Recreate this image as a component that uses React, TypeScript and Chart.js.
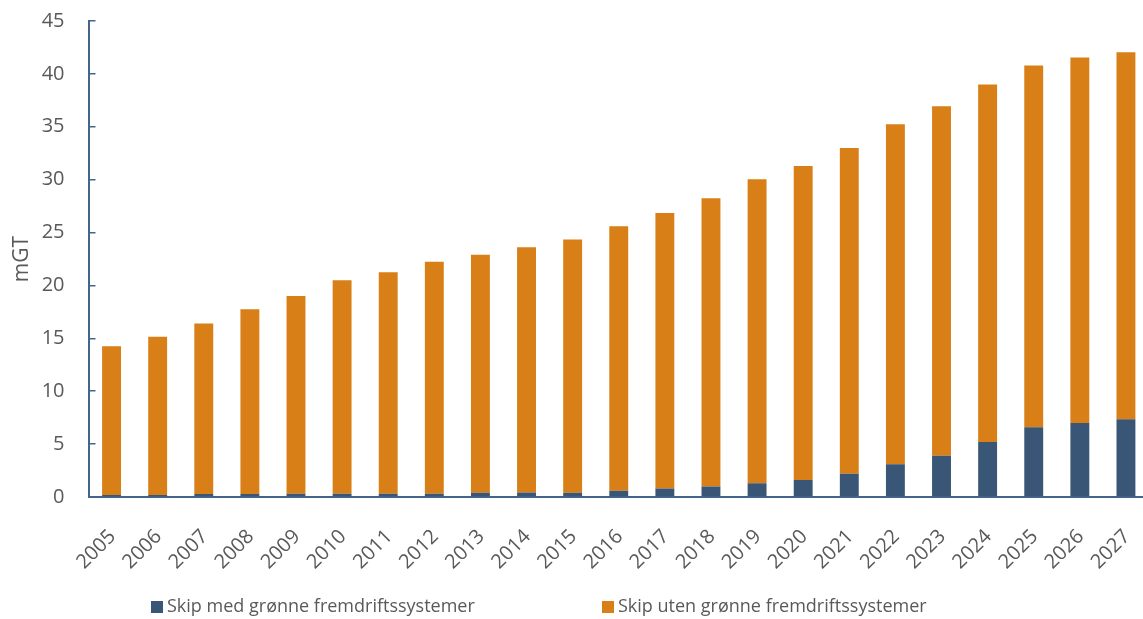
import React, { useEffect, useRef } from "react";
import { Chart, registerables } from "chart.js";

Chart.register(...registerables);

// Years on the category axis
const years = [
  "2005", "2006", "2007", "2008", "2009", "2010", "2011", "2012",
  "2013", "2014", "2015", "2016", "2017", "2018", "2019", "2020",
  "2021", "2022", "2023", "2024", "2025", "2026", "2027",
];

// Tonnage (mGT) of ships with green propulsion systems
const greenShips = [
  0.18, 0.2, 0.28, 0.28, 0.3, 0.3, 0.3, 0.3, 0.4, 0.42, 0.4, 0.6,
  0.8, 1.0, 1.3, 1.6, 2.2, 3.1, 3.9, 5.2, 6.6, 7.0, 7.35,
];

// Tonnage (mGT) of ships without green propulsion systems
const conventionalShips = [
  14.07, 14.95, 16.12, 17.47, 18.7, 20.2, 20.95, 21.95, 22.5, 23.18,
  23.95, 25.0, 26.05, 27.25, 28.75, 29.7, 30.8, 32.15, 33.05, 33.8,
  34.2, 34.55, 34.7,
];

const seriesLabels = [
  "Skip med grønne fremdriftssystemer",
  "Skip uten grønne fremdriftssystemer",
];

const yMin = 0;
const yMax = 45;
const yStep = 5;

const FONT = "'Open Sans', sans-serif";
const TEXT_COLOR = "#595959";
const AXIS_COLOR = "#44648A";
const BLUE = "#3A5676";
const ORANGE = "#D87F17";

const CANVAS_W = 1160;
const CANVAS_H = 619;

// Legend drawn below the axis, one square swatch per dataset
const legendBoxX = [151, 602];
const bottomLegend = {
  id: "bottomLegend",
  afterDraw(chart: any) {
    const ctx = chart.ctx as CanvasRenderingContext2D;
    const y = 607;
    ctx.save();
    ctx.font = `18px ${FONT}`;
    ctx.textBaseline = "middle";
    ctx.textAlign = "left";
    chart.data.datasets.forEach((ds: any, i: number) => {
      const x = legendBoxX[i];
      ctx.fillStyle = ds.backgroundColor;
      ctx.fillRect(x, y - 6, 12, 12);
      ctx.fillStyle = TEXT_COLOR;
      ctx.fillText(ds.label, x + 16, y);
    });
    ctx.restore();
  },
};

export default function App() {
  const canvasRef = useRef<HTMLCanvasElement | null>(null);

  useEffect(() => {
    if (!canvasRef.current) return;
    const chart = new Chart(canvasRef.current, {
      type: "bar",
      data: {
        labels: years,
        datasets: [
          {
            label: seriesLabels[0],
            data: greenShips,
            backgroundColor: BLUE,
            borderWidth: 0,
          },
          {
            label: seriesLabels[1],
            data: conventionalShips,
            backgroundColor: ORANGE,
            borderWidth: 0,
          },
        ],
      },
      options: {
        responsive: false,
        animation: false,
        devicePixelRatio: 1,
        layout: { padding: { left: 0, top: 21, right: 11, bottom: 47 } },
        datasets: {
          bar: { barPercentage: 0.41, categoryPercentage: 1.0 },
        },
        plugins: {
          legend: { display: false },
          tooltip: { enabled: false },
        },
        scales: {
          x: {
            stacked: true,
            grid: { display: false, drawTicks: false, tickLength: 0 },
            border: { display: true, color: AXIS_COLOR, width: 2 },
            ticks: {
              color: TEXT_COLOR,
              font: { family: FONT, size: 20 },
              minRotation: 45,
              maxRotation: 45,
              autoSkip: false,
              padding: 28,
              labelOffset: 1,
            },
            afterFit: (scale: any) => {
              scale.height = 75;
              scale.paddingLeft = 0;
              scale.paddingRight = 0;
            },
          },
          y: {
            stacked: true,
            min: yMin,
            max: yMax,
            grid: {
              drawOnChartArea: false,
              drawTicks: true,
              tickLength: -7,
              color: AXIS_COLOR,
              lineWidth: 1.5,
            },
            border: { display: true, color: AXIS_COLOR, width: 2 },
            ticks: {
              stepSize: yStep,
              color: TEXT_COLOR,
              font: { family: FONT, size: 20 },
              padding: 31,
            },
            title: {
              display: true,
              text: "mGT",
              color: TEXT_COLOR,
              font: { family: FONT, size: 21 },
              padding: { top: 9, bottom: 0 },
            },
            afterFit: (scale: any) => {
              scale.width = 88.5;
              scale.paddingTop = 0;
              scale.paddingBottom = 0;
            },
          },
        },
      },
      plugins: [bottomLegend],
    });
    return () => chart.destroy();
  }, []);

  return (
    <div
      style={{
        position: "fixed",
        left: 0,
        top: 0,
        width: 1143,
        height: CANVAS_H,
        overflow: "hidden",
        background: "#ffffff",
      }}
    >
      <canvas ref={canvasRef} width={CANVAS_W} height={CANVAS_H} />
    </div>
  );
}
